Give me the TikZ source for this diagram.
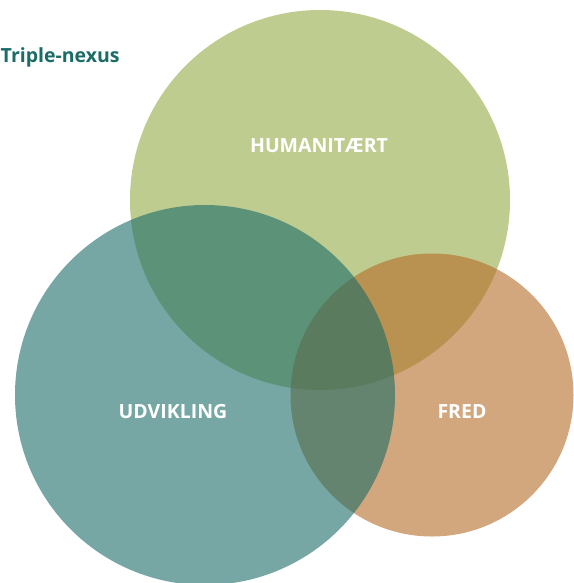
\documentclass[tikz,border=0pt]{standalone}
\usepackage{fontspec}
\setmainfont{Open Sans}
\usepackage{tikz}

\definecolor{humgreen}{RGB}{148,170,70}
\definecolor{devteal}{RGB}{27,108,103}
\definecolor{peacebrown}{RGB}{182,108,40}

\tikzset{
  sphere/.style={circle, inner sep=0pt, fill opacity=0.6, draw=none},
  sphlabel/.style={text=white, font=\bfseries\fontsize{19.5}{19.5}\selectfont, anchor=base}
}

\begin{document}
\begin{tikzpicture}[x=1pt, y=-1pt]
    \useasboundingbox (0,0) rectangle (573,583);
    % Draw the title
    \node[anchor=base west, inner sep=0pt, text=devteal, font=\bfseries\fontsize{19.5}{19.5}\selectfont] (title) at (0.5,63) {Triple-nexus};
    % Draw the three circles
    \node[sphere, fill=humgreen, minimum size=380pt] (hum) at (320,200) {};
    \node[sphere, fill=peacebrown, minimum size=283pt] (fred) at (432,395) {};
    \node[sphere, fill=devteal, minimum size=380pt] (udv) at (205,395) {};
    % Draw the labels
    \node[sphlabel] (humlabel) at (319,152) {HUMANITÆRT};
    \node[sphlabel] (udvlabel) at (173,418) {UDVIKLING};
    \node[sphlabel] (fredlabel) at (462,418) {FRED};
\end{tikzpicture}
\end{document}
